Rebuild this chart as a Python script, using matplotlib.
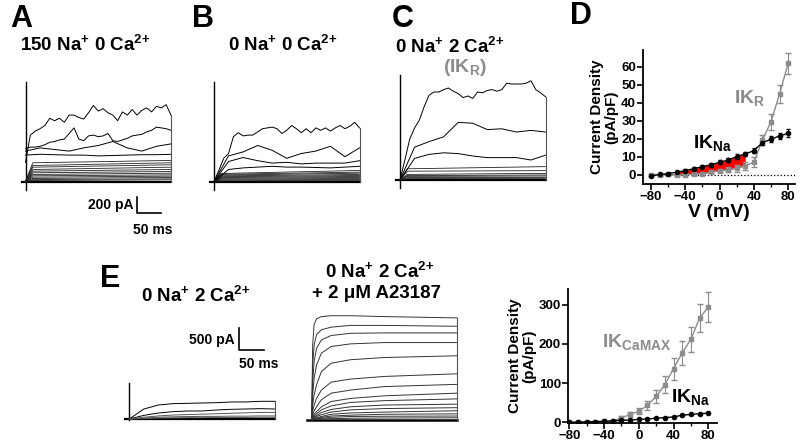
import matplotlib
matplotlib.use("Agg")
import matplotlib.pyplot as plt

plt.rcParams["font.family"] = ["Liberation Sans", "DejaVu Sans"]
plt.rcParams["font.weight"] = "bold"
plt.rcParams["mathtext.fontset"] = "custom"
plt.rcParams["mathtext.rm"] = "Liberation Sans:bold"
plt.rcParams["mathtext.bf"] = "Liberation Sans:bold"
plt.rcParams["mathtext.it"] = "Liberation Sans:bold"
plt.rcParams["mathtext.default"] = "rm"

W, H = 800, 441
GRAY = "#8c8c8c"

# ---------------- I-V data (pA/pF) ----------------
volts = [-80, -70, -60, -50, -40, -30, -20, -10, 0, 10, 20, 30, 40, 50, 60, 70, 80]
ik_na = [-0.5, 0.3, 0.8, 1.5, 2.4, 3.5, 4.6, 5.7, 7.0, 8.3, 10.2, 11.7, 13.5, 18.0, 19.8, 21.7, 23.1]
ik_na_err = [0.6, 0.5, 0.5, 0.6, 0.7, 0.8, 0.9, 1.0, 1.1, 1.2, 1.3, 1.3, 1.4, 1.6, 1.7, 1.8, 2.2]
ik_r = [0.0, 0.0, 0.3, 0.0, 0.2, 0.5, 0.8, 1.5, 2.4, 3.0, 3.7, 5.2, 7.0, 19.4, 29.6, 45.0, 62.0]
ik_r_err = [0.3, 0.3, 0.3, 0.3, 0.3, 0.4, 0.5, 0.6, 0.8, 1.2, 1.8, 2.2, 2.8, 3.0, 4.5, 5.0, 6.0]
ik_camax = [0, 0, 0, 1, 2, 3, 11, 20, 28, 43, 66, 96, 137, 177, 212, 266, 294]
ik_camax_err = [0, 0, 0, 1, 1, 2, 4, 6, 8, 12, 16, 22, 28, 30, 32, 36, 38]
fill_lo, fill_hi = 3, 11  # -50 .. +20 mV shaded

# ---------------- current traces (pA vs ms) ----------------
t_fine = list(range(0, 301, 10))
t_coarse = list(range(0, 301, 30))

a_top = [240, 580, 630, 660, 700, 790, 760, 790, 740, 830, 830, 800, 780, 860, 950, 880,
         910, 860, 830, 760, 870, 830, 900, 830, 890, 920, 870, 940, 920, 960, 830]
a_2 = [410, 430, 430, 440, 460, 490, 500, 520, 530, 600, 670, 530, 510, 570, 580, 560,
       570, 600, 510, 500, 520, 540, 570, 580, 590, 620, 640, 680, 670, 660, 640]
a_3 = [380, 420, 400, 380, 420, 450, 500, 420, 380, 440, 470]
a_4 = [330, 340, 335, 330, 330, 320, 325, 330, 335, 335, 340]
a_small = [(234, 263), (200, 234), (179, 209), (150, 179), (129, 150), (109, 125),
           (88, 104), (71, 83), (54, 67), (38, 50), (25, 33), (13, 21)]

b_top = [0, 140, 290, 350, 560, 610, 570, 580, 580, 620, 660, 670, 680, 660, 600, 640,
         700, 660, 610, 660, 610, 670, 640, 670, 630, 670, 700, 660, 690, 740, 670]
b_2 = [0, 320, 370, 450, 390, 290, 350, 380, 440, 310, 420]
b_3 = [0, 250, 300, 260, 230, 240, 220, 230, 230, 230, 260]
b_4 = [0, 150, 170, 180, 190, 180, 180, 175, 170, 180, 190]
b_small = [(100, 138), (90, 117), (80, 104), (70, 88), (60, 75), (50, 63),
           (40, 50), (30, 38), (20, 25), (10, 13)]

c_top = [0, 250, 510, 650, 750, 920, 1060, 1100, 1100, 1130, 1150, 1110, 1080, 1030, 1050, 1020,
         1100, 1090, 1120, 1130, 1110, 1130, 1210, 1200, 1200, 1200, 1210, 1240, 1130, 1090, 1040]
c_2 = [0, 410, 480, 540, 720, 710, 630, 640, 600, 620, 600]
c_3 = [0, 270, 320, 340, 330, 300, 280, 280, 280, 250, 310]
c_small = [(140, 167), (110, 117), (70, 83), (55, 63), (45, 50), (30, 33), (18, 21)]

e_left = [
    [0, 227, 318, 349, 356, 364, 371, 387, 387, 402, 402],
    [0, 83, 136, 167, 182, 182, 205, 220, 227, 235, 227],
    [0, 40, 70, 90, 100, 110, 120, 130, 140, 150, 150],
    [0, 20, 40, 50, 55, 60, 60, 65, 65, 70, 70],
    [0, 10, 20, 25, 30, 30, 35, 35, 35, 40, 40],
]

t_act = [0, 2, 5, 10, 20, 40, 80, 150, 300]
e_a23187 = [
    [0, 1710, 2170, 2300, 2350, 2370, 2370, 2350, 2320],
    [0, 1250, 1710, 1940, 2050, 2110, 2150, 2150, 2130],
    [0, 870, 1330, 1630, 1820, 1920, 1970, 1980, 1980],
    [0, 570, 950, 1250, 1520, 1670, 1730, 1760, 1760],
    [0, 340, 570, 800, 1100, 1290, 1370, 1420, 1460],
    [0, 190, 340, 490, 680, 860, 930, 990, 1050],
    [0, 110, 210, 300, 460, 610, 680, 760, 810],
    [0, 80, 130, 190, 300, 420, 490, 550, 610],
    [0, 50, 90, 140, 230, 320, 400, 440, 480],
    [0, 40, 70, 100, 170, 240, 300, 340, 360],
    [0, 30, 50, 80, 120, 180, 230, 260, 280],
    [0, 20, 40, 50, 80, 130, 160, 180, 210],
    [0, 15, 25, 40, 60, 90, 110, 130, 140],
    [0, 10, 15, 25, 40, 60, 80, 85, 90],
    [0, 8, 8, 15, 25, 30, 40, 45, 50],
]

fig = plt.figure(figsize=(W / 100, H / 100), dpi=100)


def px_axes(box):
    l, t, r, b = box
    return fig.add_axes([l / W, 1 - b / H, (r - l) / W, (b - t) / H])


def trace_axes(box, t0, base, px_ms, px_pa):
    l, t, r, b = box
    ax = px_axes(box)
    ax.set_xlim((l - t0) / px_ms, (r - t0) / px_ms)
    ax.set_ylim((base - b) / px_pa, (base - t) / px_pa)
    ax.axis("off")
    return ax


def ftext(x, y, s, **kw):
    fig.text(x / W, 1 - y / H, s, **kw)


def top_panel(ax, noisy_fine, noisy_coarse, small, art_top):
    ax.plot([0, 0], [-100, art_top], color="k", lw=1.0)
    ax.plot([-8, 300], [0, 0], color="k", lw=1.6)
    for lo, hi in small:
        ax.plot([0, 15, 300], [0, lo, hi], color="#222222", lw=0.6)
    for tr in noisy_coarse:
        ax.plot(t_coarse, tr, color="k", lw=0.7)
    for tr in noisy_fine:
        ax.plot(t_fine, tr, color="k", lw=0.7)
    ax.plot([300, 300], [0, noisy_fine[0][-1]], color="#555555", lw=0.8)


PX_MS = 0.485
PX_PA = 0.08

ax_a = trace_axes((10, 70, 190, 250), 25.5, 181.5, PX_MS, PX_PA)
top_panel(ax_a, [a_top, a_2], [a_3, a_4], a_small, 1247)
# scale bar 200 pA / 50 ms
ax_a.plot([230, 230, 280], [-190, -390, -390], color="k", lw=1.2, clip_on=False)
ax_a.text(222, -290, "200 pA", ha="right", va="center", fontsize=10)
ax_a.text(262, -600, "50 ms", ha="center", va="center", fontsize=10)

ax_b = trace_axes((200, 70, 380, 200), 214, 181.5, PX_MS, PX_PA)
top_panel(ax_b, [b_top], [b_2, b_3, b_4], b_small, 1247)

ax_c = trace_axes((385, 70, 560, 200), 400, 180, PX_MS, PX_PA)
top_panel(ax_c, [c_top], [c_2, c_3], c_small, 1312)

PX_PA_E = 0.044
ax_el = trace_axes((115, 300, 300, 430), 129.3, 419, PX_MS, PX_PA_E)
ax_el.plot([0, 0], [-20, 818], color="k", lw=1.0)
ax_el.plot([-8, 300], [0, 0], color="k", lw=1.6)
for i, tr in enumerate(e_left):
    ax_el.plot(t_coarse, tr, color="k" if i < 2 else "#555555", lw=0.7)
ax_el.plot([300, 300], [0, e_left[0][-1]], color="#555555", lw=0.8)
ax_el.plot([227, 227, 277], [2068, 1568, 1568], color="k", lw=1.2, clip_on=False)
ax_el.text(217, 1800, "500 pA", ha="right", va="center", fontsize=10)
ax_el.text(266, 1250, "50 ms", ha="center", va="center", fontsize=10)

ax_em = trace_axes((300, 305, 470, 430), 311.7, 420, PX_MS, PX_PA_E)
ax_em.plot([-10, 300], [0, 0], color="k", lw=1.8)
for tr in e_a23187:
    ax_em.plot(t_act, tr, color="#333333", lw=0.7)
ax_em.plot([300, 300], [0, e_a23187[0][-1]], color="#555555", lw=0.8)


def style_iv(ax):
    for s in ("top", "right"):
        ax.spines[s].set_visible(False)
    for s in ("left", "bottom"):
        ax.spines[s].set_linewidth(1.3)
    ax.tick_params(direction="out", length=4, width=1.2, labelsize=9.5, pad=1)
    ax.tick_params(which="minor", direction="out", length=2.5, width=1.0)
    ax.set_xticks([-80, -40, 0, 40, 80])
    ax.set_xticks([-60, -20, 20, 60], minor=True)
    for lab in ax.get_xticklabels() + ax.get_yticklabels():
        lab.set_fontweight("bold")


# ---------------- D ----------------
axd = px_axes((643, 50, 795, 184))
axd.set_xlim(-89.3, 88)
axd.set_ylim(-5, 69.4)
axd.fill_between(volts[fill_lo:fill_hi + 1], ik_r[fill_lo:fill_hi + 1],
                 ik_na[fill_lo:fill_hi + 1], color="#ff0000", lw=0)
axd.hlines(0, volts[0], 88, colors="k", linestyles=":", lw=0.9)
axd.errorbar(volts, ik_r, yerr=ik_r_err, color=GRAY, marker="s", ms=3, lw=1.0,
             capsize=2, elinewidth=0.8)
axd.errorbar(volts, ik_na, yerr=ik_na_err, color="k", marker="o", ms=3.0, lw=1.0,
             capsize=1.5, elinewidth=0.8)
style_iv(axd)
axd.set_yticks([0, 10, 20, 30, 40, 50, 60])
for lab in axd.get_yticklabels():
    lab.set_fontweight("bold")
axd.set_xlabel("V (mV)", fontsize=14, fontweight="bold", labelpad=1)
axd.set_ylabel("Current Density\n(pA/pF)", fontsize=11, fontweight="bold",
               linespacing=1.0, labelpad=2)
axd.text(35.6, 43, r"IK$_{R}$", color=GRAY, fontsize=14, ha="center", va="center")
axd.text(-7.6, 17.7, r"IK$_{Na}$", color="k", fontsize=14, ha="center", va="center")

# ---------------- E (I-V) ----------------
axe = px_axes((568, 289, 717, 423))
axe.set_xlim(-81.5, 90)
axe.set_ylim(-2, 340)
axe.errorbar(volts, ik_camax, yerr=ik_camax_err, color=GRAY, marker="s", ms=3.2, lw=1.0,
             capsize=2, elinewidth=0.8)
axe.errorbar(volts, ik_na, yerr=ik_na_err, color="k", marker="o", ms=3.0, lw=1.0,
             capsize=1.5, elinewidth=0.8)
style_iv(axe)
axe.set_yticks([0, 100, 200, 300])
for lab in axe.get_yticklabels():
    lab.set_fontweight("bold")
axe.set_ylabel("Current Density\n(pA/pF)", fontsize=11, fontweight="bold",
               linespacing=1.0, labelpad=2)
axe.text(-3, 204, r"IK$_{CaMAX}$", color=GRAY, fontsize=14, ha="center", va="center")
axe.text(60, 64, r"IK$_{Na}$", color="k", fontsize=14, ha="center", va="center")

# ---------------- panel letters and titles ----------------
for letter, x, y in [("A", 10, 19), ("B", 192, 19), ("C", 392, 19), ("D", 570, 16), ("E", 100, 279)]:
    ftext(x, y, letter, fontsize=22, fontweight="bold", ha="left", va="center")

NA = r"Na$^{{+}}$"
CA = r"Ca$^{2{+}}$"
ftext(85, 45, f"150 {NA} 0 {CA}", fontsize=13.5, ha="center", va="center")
ftext(283, 45, f"0 {NA} 0 {CA}", fontsize=13.5, ha="center", va="center")
ftext(450, 47, f"0 {NA} 2 {CA}", fontsize=13.5, ha="center", va="center")
ftext(465, 68, r"(IK$_{R}$)", fontsize=14, color=GRAY, ha="center", va="center")
ftext(196, 296, f"0 {NA} 2 {CA}", fontsize=13.5, ha="center", va="center")
ftext(380, 272, f"0 {NA} 2 {CA}", fontsize=13.5, ha="center", va="center")
ftext(376, 294, "+ 2 μM A23187", fontsize=13.5, ha="center", va="center")

fig.savefig("out.png", dpi=100)
plt.close(fig)
